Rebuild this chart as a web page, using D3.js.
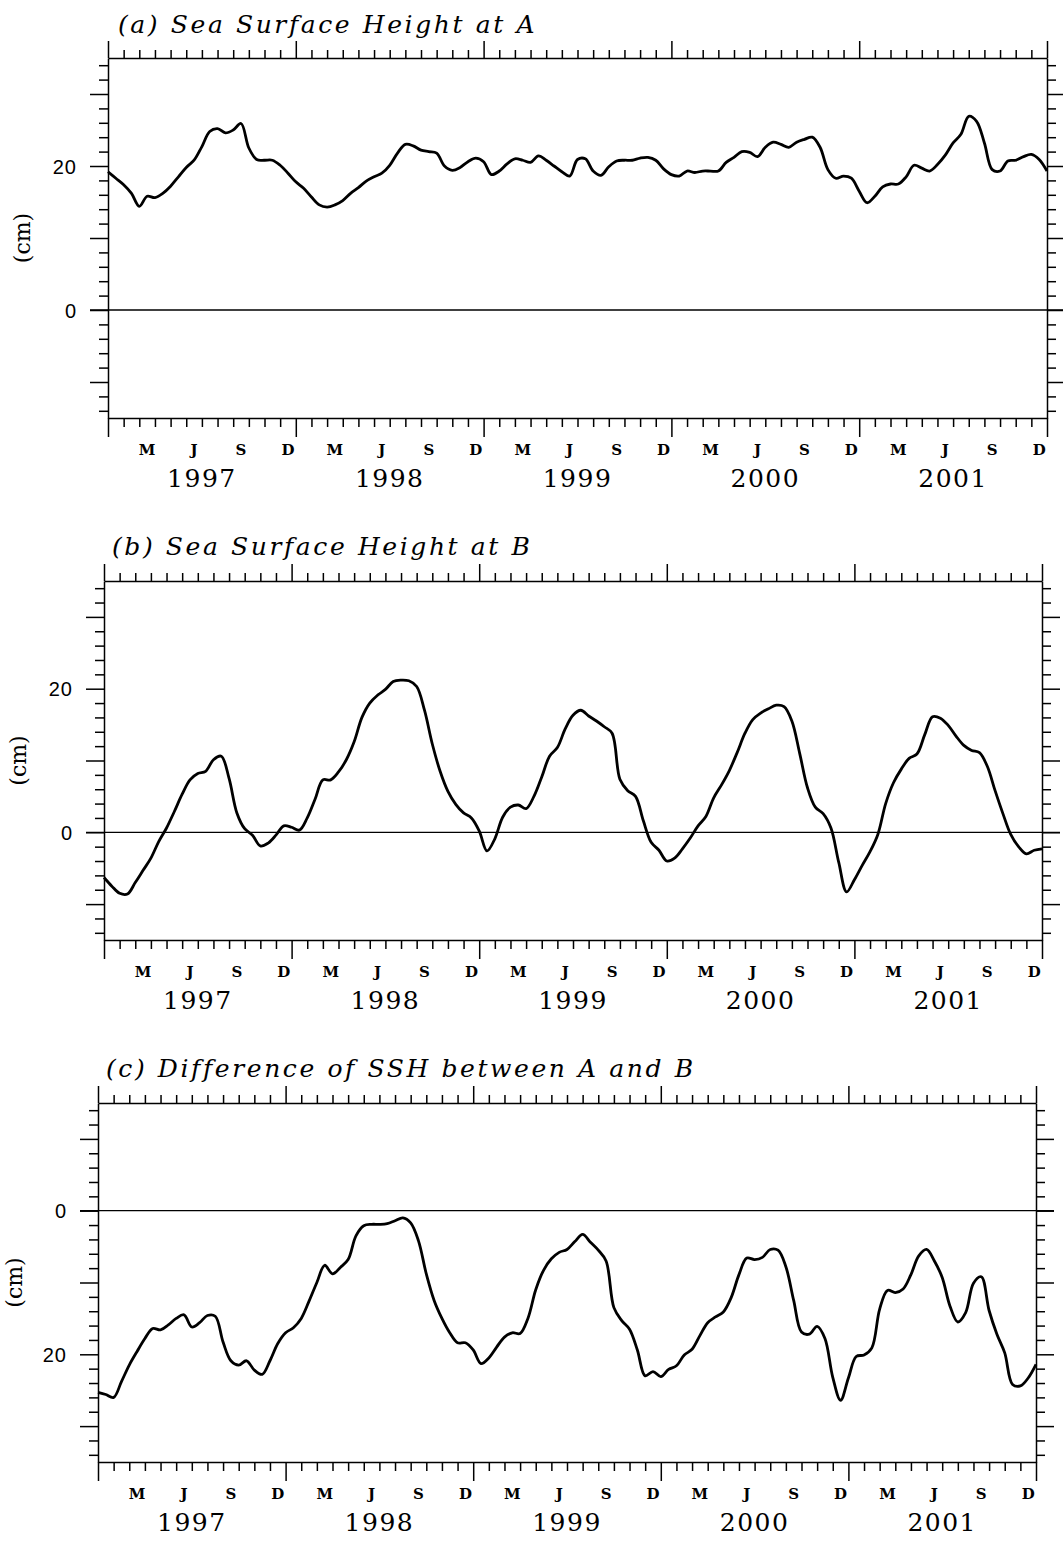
<!DOCTYPE html>
<meta charset="utf-8">
<script src="https://d3js.org/d3.v7.min.js"></script>
<style>
body { margin: 0; background: white; }
svg { background: white; }
.axis path, .axis line { stroke: #000; stroke-width: 1.5; fill: none; }
.curve { fill: none; stroke: #000; stroke-width: 2.8; stroke-linejoin: round; }
</style>
<body>
<div id="chart"></div>
<script>
// time axis: months since Jan 1997, sampled every half month
const years = ["1997", "1998", "1999", "2000", "2001"];
const monthLetters = ["M", "J", "S", "D"];
const monthIndex = [2, 5, 8, 11];
const months = d3.range(0, 60.5, 0.5);

// (a) SSH at A, cm
const sshA = [19.2,18.3,17.4,16.2,14.4,15.8,15.6,16.2,17.2,18.5,
  19.8,20.8,22.7,24.8,25.2,24.6,25.0,25.9,22.5,20.9,
  20.8,20.8,20.1,19.0,17.8,16.9,15.7,14.6,14.3,14.6,
  15.2,16.2,17.0,17.9,18.5,19.0,20.1,21.8,23.0,22.8,
  22.2,22.0,21.8,20.0,19.4,19.8,20.6,21.1,20.6,18.8,
  19.3,20.3,21.0,20.8,20.5,21.4,20.8,20.0,19.2,18.6,
  20.9,21.0,19.3,18.7,19.9,20.7,20.8,20.8,21.1,21.2,
  20.8,19.6,18.8,18.6,19.3,19.1,19.3,19.3,19.3,20.5,
  21.2,22.0,21.9,21.3,22.6,23.3,23.0,22.6,23.3,23.7,
  24.0,22.6,19.5,18.3,18.6,18.3,16.5,14.9,15.8,17.1,
  17.5,17.5,18.5,20.1,19.7,19.3,20.2,21.5,23.2,24.4,
  26.9,26.2,23.2,19.5,19.3,20.7,20.8,21.3,21.6,20.9,
  19.3];

// (b) SSH at B, cm
const sshB = [-6.3,-7.5,-8.5,-8.6,-7.0,-5.3,-3.6,-1.3,0.6,2.9,
  5.3,7.3,8.2,8.5,10.1,10.6,7.5,2.7,0.5,-0.4,
  -1.9,-1.5,-0.4,0.9,0.7,0.3,2.0,4.6,7.3,7.3,
  8.4,10.1,12.6,16.0,18.0,19.1,19.9,21.0,21.2,21.1,
  20.3,17.0,12.3,8.5,5.7,3.9,2.7,2.0,0.2,-2.6,
  -0.9,2.1,3.5,3.8,3.3,5.0,7.7,10.6,11.8,14.4,
  16.3,17.0,16.2,15.5,14.7,13.8,7.4,5.8,5.0,1.6,
  -1.4,-2.5,-4.0,-3.6,-2.3,-0.8,0.9,2.2,4.8,6.6,
  8.6,11.1,13.8,15.7,16.6,17.2,17.7,17.5,15.5,11.0,
  6.2,3.5,2.6,0.6,-4.2,-8.3,-6.6,-4.6,-2.7,-0.3,
  4.0,6.9,8.8,10.3,10.9,13.6,16.1,15.9,14.9,13.4,
  12.1,11.4,11.1,9.2,5.8,2.6,-0.3,-2.0,-3.0,-2.5,
  -2.3];

// (c) difference A - B, cm (axis drawn positive downward)
const sshDiff = [25.3,25.6,26.0,23.8,21.5,19.6,17.8,16.4,16.6,15.9,
  15.0,14.5,16.2,15.6,14.6,14.7,18.3,20.9,21.5,20.9,
  22.2,22.8,20.9,18.5,17.0,16.3,15.0,12.6,10.0,7.6,
  8.8,7.9,6.8,3.5,2.1,1.9,1.9,1.8,1.4,1.0,
  1.7,4.2,8.8,12.5,15.0,17.0,18.4,18.4,19.4,21.3,
  20.5,19.0,17.6,17.0,17.1,15.0,11.0,8.3,6.7,5.8,
  5.4,4.3,3.3,4.4,5.5,7.0,13.5,15.3,16.5,19.4,
  23.0,22.4,23.1,22.1,21.6,20.1,19.3,17.4,15.6,14.8,
  14.1,12.1,8.9,6.6,6.8,6.5,5.4,5.5,7.8,12.5,
  16.9,17.2,16.1,17.8,23.2,26.4,23.3,20.3,20.1,19.1,
  13.7,11.1,11.4,10.9,8.9,6.3,5.4,7.0,9.3,13.3,
  15.5,14.2,10.1,9.2,13.9,17.2,19.8,24.2,24.4,23.3,
  21.4];

const titles = ["(a) Sea Surface Height at A",
                "(b) Sea Surface Height at B",
                "(c) Difference of SSH between A and B"];
const yLabelled = [0, 20];

const panels = [
  {left: 108, right: 1047, top: 58,   bottom: 418,  titleX: 118, titleY: 33,   cmX: 30, data: sshA,    invert: false},
  {left: 104, right: 1042, top: 581,  bottom: 940,  titleX: 112, titleY: 555,  cmX: 26, data: sshB,    invert: false},
  {left: 98,  right: 1036, top: 1103, bottom: 1462, titleX: 106, titleY: 1077, cmX: 22, data: sshDiff, invert: true}
];

const svg = d3.select("#chart").append("svg")
    .attr("width", 1063)
    .attr("height", 1542);

panels.forEach(function(p, i) {
  var x = d3.scaleLinear().domain([0, 60]).range([p.left, p.right]);
  var y = d3.scaleLinear()
      .domain(p.invert ? [35, -15] : [-15, 35])
      .range([p.bottom, p.top]);

  var g = svg.append("g");
  var monthTicks = d3.range(0, 61);
  var cmTicks = d3.range(-14, 35, 2);

  // top axis
  g.append("g").attr("class", "axis")
      .attr("transform", "translate(0," + p.top + ")")
      .call(d3.axisTop(x).tickValues(monthTicks).tickFormat("").tickSizeOuter(0))
      .call(a => a.selectAll(".tick line").attr("y2", d => d % 12 === 0 ? -17 : -8));

  // bottom axis
  g.append("g").attr("class", "axis")
      .attr("transform", "translate(0," + p.bottom + ")")
      .call(d3.axisBottom(x).tickValues(monthTicks).tickFormat("").tickSizeOuter(0))
      .call(a => a.selectAll(".tick line").attr("y2", d => d % 12 === 0 ? 19 : 9));

  // left axis
  g.append("g").attr("class", "axis")
      .attr("transform", "translate(" + p.left + ",0)")
      .call(d3.axisLeft(y).tickValues(cmTicks).tickSizeOuter(0)
          .tickFormat(d => yLabelled.includes(d) ? d : ""))
      .call(a => a.selectAll(".tick line").attr("x2", d => d % 10 === 0 ? -18 : -9))
      .call(a => a.selectAll(".tick text")
          .attr("x", -31)
          .attr("dy", "0.36em")
          .style("font-family", "'Liberation Sans', Arial, sans-serif")
          .style("font-size", "20px")
          .style("letter-spacing", "1px")
          .attr("fill", "#000"));

  // right axis
  g.append("g").attr("class", "axis")
      .attr("transform", "translate(" + p.right + ",0)")
      .call(d3.axisRight(y).tickValues(cmTicks).tickFormat("").tickSizeOuter(0))
      .call(a => a.selectAll(".tick line").attr("x2", d => d % 10 === 0 ? 18 : 9));

  // zero line
  g.append("line")
      .attr("x1", p.left - 18).attr("x2", p.right + 18)
      .attr("y1", y(0)).attr("y2", y(0))
      .attr("stroke", "#000").attr("stroke-width", 1.3);

  // curve
  g.append("path")
      .datum(p.data)
      .attr("class", "curve")
      .attr("d", d3.line()
          .x((d, k) => x(months[k]))
          .y(d => y(d))
          .curve(d3.curveCatmullRom));

  // month letters and years
  years.forEach(function(yr, yi) {
    monthIndex.forEach(function(m, mi) {
      g.append("text")
          .attr("x", x(yi * 12 + m + 0.5))
          .attr("y", p.bottom + 37)
          .attr("text-anchor", "middle")
          .style("font-family", "'DejaVu Serif', serif")
          .style("font-weight", "bold")
          .style("font-size", "15px")
          .text(monthLetters[mi]);
    });
    g.append("text")
        .attr("x", x(yi * 12 + 6))
        .attr("y", p.bottom + 69)
        .attr("text-anchor", "middle")
        .style("font-family", "'DejaVu Serif', serif")
        .style("font-size", "25px")
        .style("letter-spacing", "1.5px")
        .text(yr);
  });

  // title
  g.append("text")
      .attr("x", p.titleX)
      .attr("y", p.titleY)
      .style("font-family", "'DejaVu Serif', serif")
      .style("font-style", "italic")
      .style("font-size", "25px")
      .style("letter-spacing", "2.6px")
      .text(titles[i]);

  // y label
  g.append("text")
      .attr("transform", "translate(" + p.cmX + "," + ((p.top + p.bottom) / 2) + ") rotate(-90)")
      .attr("text-anchor", "middle")
      .style("font-family", "'DejaVu Serif', serif")
      .style("font-size", "22px")
      .text("(cm)");
});
</script>
</body>
